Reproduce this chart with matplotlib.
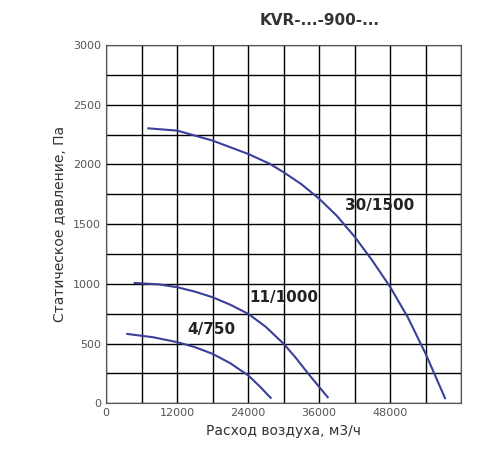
import matplotlib.pyplot as plt

# кривые вентилятора (расход м3/ч, давление Па)
q_1500 = [7150, 12050, 18030, 24060, 27720, 30030, 33000, 36060, 39000, 42090, 45000, 48060, 51000, 54030, 57300]
p_1500 = [2302, 2283, 2199, 2087, 2004, 1934, 1835, 1711, 1570, 1390, 1195, 971, 720, 413, 42]
q_1000 = [4850, 9000, 12060, 15000, 18030, 21000, 24060, 27000, 30030, 32000, 34200, 37470]
p_1000 = [1007, 995, 971, 935, 887, 825, 748, 640, 497, 385, 246, 50]
q_750 = [3600, 8000, 12060, 15000, 18030, 21000, 24060, 26000, 27830]
p_750 = [580, 552, 511, 470, 413, 335, 232, 140, 45]

labels = ['30/1500', '11/1000', '4/750']
label_pos = [(46200, 1655), (29970, 887), (17750, 614)]

fig = plt.figure(figsize=(5, 4.5), dpi=100)
ax = fig.add_axes([0.212, 0.104, 0.71, 0.796])

col = '#3a3f9a'
ax.plot(q_1500, p_1500, color=col, lw=1.5)
ax.plot(q_1000, p_1000, color=col, lw=1.5)
ax.plot(q_750, p_750, color=col, lw=1.5)
for lab, (x, y) in zip(labels, label_pos):
    ax.text(x, y, lab, ha='center', va='center', fontsize=11, fontweight='bold', color='#222222')

ax.set_xlim(0, 60000)
ax.set_ylim(0, 3000)
ax.set_xticks(range(0, 60001, 6000), minor=True)
ax.set_yticks(range(0, 3001, 250), minor=True)
ax.set_xticks([0, 12000, 24000, 36000, 48000])
ax.set_yticks(range(0, 3001, 500))
ax.grid(True, which='both', color='black', lw=1)
ax.tick_params(which='both', length=0, labelsize=8, colors='#555555')
for lbl in ax.get_xticklabels():
    lbl.set_x(lbl.get_position()[0])
for s in ax.spines.values():
    s.set_color('#555555')

ax.set_xlabel('Расход воздуха, м3/ч', fontsize=10, color='#333333')
ax.set_ylabel('Статическое давление, Па', fontsize=10, color='#333333')
fig.text(0.64, 0.955, 'KVR-...-900-...', ha='center', va='center', fontsize=11, fontweight='bold', color='#333333')

fig.savefig('out.png')
